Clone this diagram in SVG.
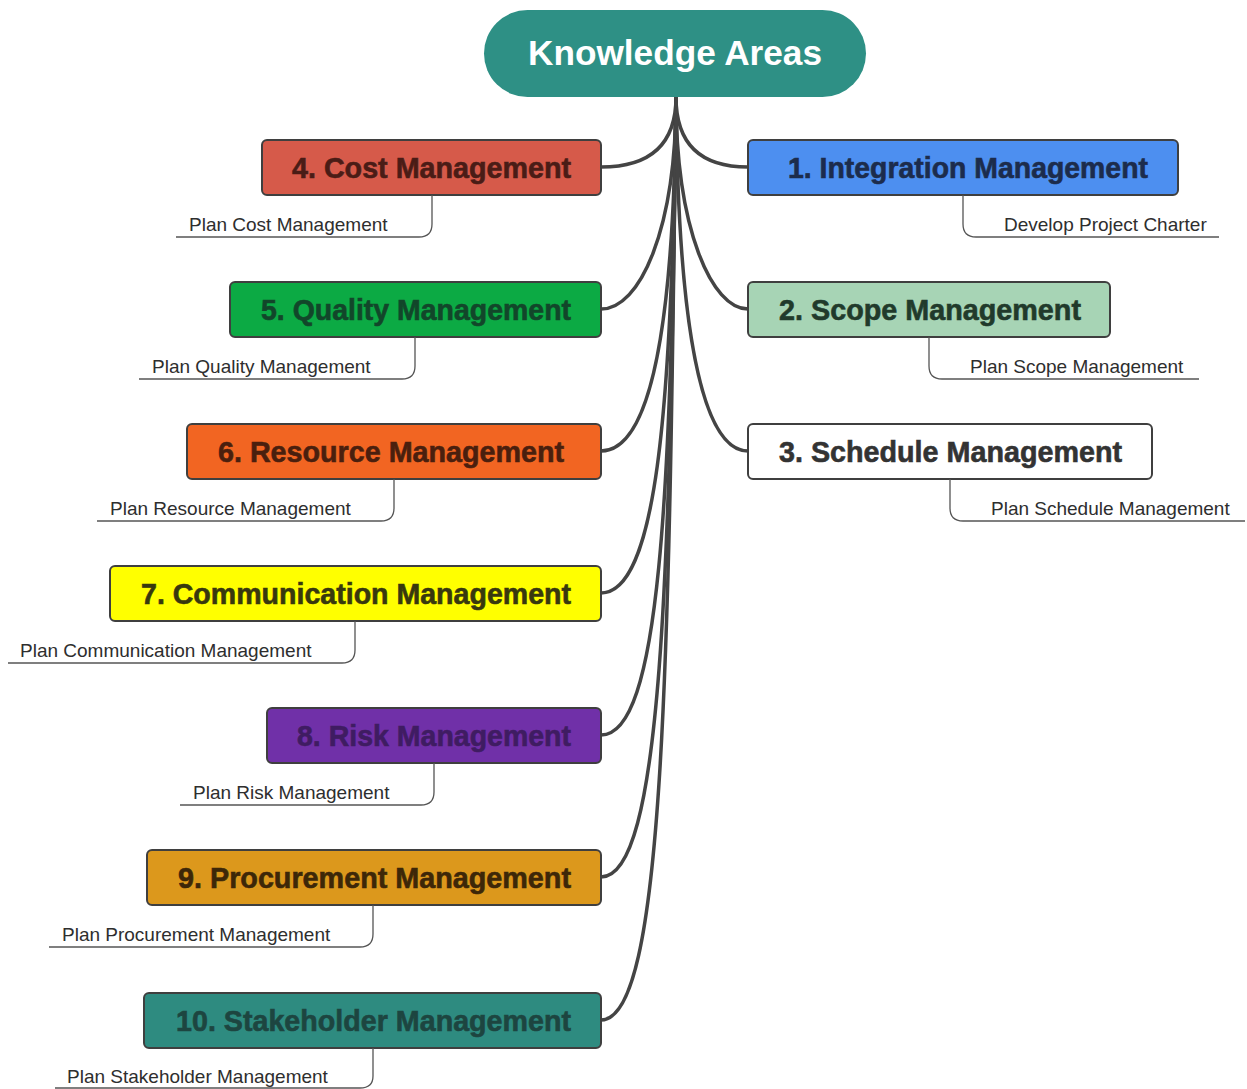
<svg xmlns="http://www.w3.org/2000/svg" width="1247" height="1089" viewBox="0 0 1247 1089">
  <style>
    .box { stroke: #3f3f3f; stroke-width: 2; }
    .title { font-family: "Liberation Sans", Arial, sans-serif; font-weight: bold; font-size: 29px; stroke-width: 0.6; paint-order: stroke; }
    .sub { font-family: "Liberation Sans", Arial, sans-serif; font-size: 19px; fill: #2e2e2e; }
    .subline { fill: none; stroke: #555; stroke-width: 1.3; }
    .link { fill: none; stroke: #444; stroke-width: 3.5; stroke-linecap: round; }
  </style>
  <rect width="1247" height="1089" fill="#ffffff"/>

  <!-- curved branches from the central topic -->
  <g id="connectors">
    <path class="link" d="M676,97 Q676,167 601,167"/>
    <path class="link" d="M676,97 C676,230 640,309 601,309"/>
    <path class="link" d="M676,97 C674,330 650,451 601,451"/>
    <path class="link" d="M676,97 C672,420 655,593 601,593"/>
    <path class="link" d="M676,97 C671,500 660,735 601,735"/>
    <path class="link" d="M676,97 C670,580 662,877 601,877"/>
    <path class="link" d="M676,97 C669,660 665,1020 601,1020"/>
    <path class="link" d="M676,97 Q676,167 748,167"/>
    <path class="link" d="M676,97 C676,230 712,309 748,309"/>
    <path class="link" d="M676,97 C678,330 702,451 748,451"/>
  </g>

  <!-- central topic -->
  <g id="knowledge-areas">
    <rect x="484" y="10" width="382" height="87" rx="43.5" fill="#2e9085"/>
    <text x="528" y="65" font-family="Liberation Sans, Arial, sans-serif" font-weight="bold" font-size="35" fill="#ffffff" textLength="294" lengthAdjust="spacingAndGlyphs">Knowledge Areas</text>
  </g>

  <!-- left side -->
  <g id="cost-management">
    <rect class="box" x="262" y="140" width="339" height="55" rx="5" fill="#d65a4a"/>
    <text class="title" x="292" y="178" fill="#4a1c16" stroke="#4a1c16" textLength="279" lengthAdjust="spacingAndGlyphs">4. Cost Management</text>
    <path class="subline" d="M432,195 V224 C432,233 428,237 419,237 H176"/>
    <text class="sub" x="189" y="231">Plan Cost Management</text>
  </g>

  <g id="quality-management">
    <rect class="box" x="230" y="282" width="371" height="55" rx="5" fill="#0caa44"/>
    <text class="title" x="261" y="320" fill="#12462a" stroke="#12462a" textLength="310" lengthAdjust="spacingAndGlyphs">5. Quality Management</text>
    <path class="subline" d="M415,337 V366 C415,375 411,379 402,379 H139"/>
    <text class="sub" x="152" y="373">Plan Quality Management</text>
  </g>

  <g id="resource-management">
    <rect class="box" x="187" y="424" width="414" height="55" rx="5" fill="#f26522"/>
    <text class="title" x="218" y="462" fill="#4a1f0e" stroke="#4a1f0e" textLength="346" lengthAdjust="spacingAndGlyphs">6. Resource Management</text>
    <path class="subline" d="M394,479 V508 C394,517 390,521 381,521 H97"/>
    <text class="sub" x="110" y="515">Plan Resource Management</text>
  </g>

  <g id="communication-management">
    <rect class="box" x="110" y="566" width="491" height="55" rx="5" fill="#ffff00"/>
    <text class="title" x="141" y="604" fill="#38380e" stroke="#38380e" textLength="430" lengthAdjust="spacingAndGlyphs">7. Communication Management</text>
    <path class="subline" d="M355,621 V650 C355,659 351,663 342,663 H8"/>
    <text class="sub" x="20" y="657">Plan Communication Management</text>
  </g>

  <g id="risk-management">
    <rect class="box" x="267" y="708" width="334" height="55" rx="5" fill="#7030a8"/>
    <text class="title" x="297" y="746" fill="#3f1c62" stroke="#3f1c62" textLength="274" lengthAdjust="spacingAndGlyphs">8. Risk Management</text>
    <path class="subline" d="M434,763 V792 C434,801 430,805 421,805 H180"/>
    <text class="sub" x="193" y="799">Plan Risk Management</text>
  </g>

  <g id="procurement-management">
    <rect class="box" x="147" y="850" width="454" height="55" rx="5" fill="#dc981c"/>
    <text class="title" x="178" y="888" fill="#3d2708" stroke="#3d2708" textLength="393" lengthAdjust="spacingAndGlyphs">9. Procurement Management</text>
    <path class="subline" d="M373,905 V934 C373,943 369,947 360,947 H49"/>
    <text class="sub" x="62" y="941">Plan Procurement Management</text>
  </g>

  <g id="stakeholder-management">
    <rect class="box" x="144" y="993" width="457" height="55" rx="5" fill="#2e8b80"/>
    <text class="title" x="176" y="1031" fill="#1d4540" stroke="#1d4540" textLength="395" lengthAdjust="spacingAndGlyphs">10. Stakeholder Management</text>
    <path class="subline" d="M373,1048 V1076 C373,1084 369,1088 360,1088 H55"/>
    <text class="sub" x="67" y="1083">Plan Stakeholder Management</text>
  </g>

  <!-- right side -->
  <g id="integration-management">
    <rect class="box" x="748" y="140" width="430" height="55" rx="5" fill="#4d8ff0"/>
    <text class="title" x="788" y="178" fill="#1c2c4c" stroke="#1c2c4c" textLength="360" lengthAdjust="spacingAndGlyphs">1. Integration Management</text>
    <path class="subline" d="M963,195 V224 C963,233 967,237 976,237 H1219"/>
    <text class="sub" x="1004" y="231">Develop Project Charter</text>
  </g>

  <g id="scope-management">
    <rect class="box" x="748" y="282" width="362" height="55" rx="5" fill="#a7d4b5"/>
    <text class="title" x="779" y="320" fill="#213a2b" stroke="#213a2b" textLength="302" lengthAdjust="spacingAndGlyphs">2. Scope Management</text>
    <path class="subline" d="M929,337 V366 C929,375 933,379 942,379 H1199"/>
    <text class="sub" x="970" y="373">Plan Scope Management</text>
  </g>

  <g id="schedule-management">
    <rect class="box" x="748" y="424" width="404" height="55" rx="5" fill="#ffffff"/>
    <text class="title" x="779" y="462" fill="#333333" stroke="#333333" textLength="343" lengthAdjust="spacingAndGlyphs">3. Schedule Management</text>
    <path class="subline" d="M950,479 V508 C950,517 954,521 963,521 H1245"/>
    <text class="sub" x="991" y="515">Plan Schedule Management</text>
  </g>
</svg>
